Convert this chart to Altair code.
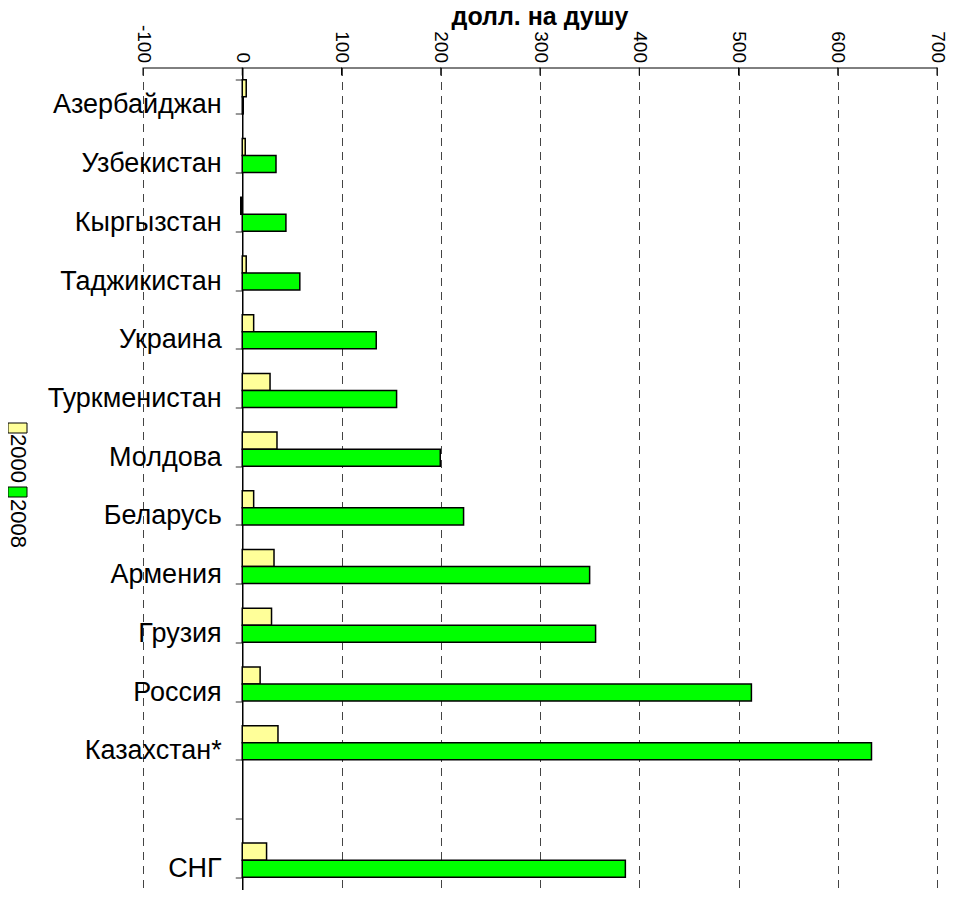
import altair as alt
import pandas as pd

countries = ["Азербайджан", "Узбекистан", "Кыргызстан", "Таджикистан", "Украина",
             "Туркменистан", "Молдова", "Беларусь", "Армения", "Грузия", "Россия",
             "Казахстан*", " ", "СНГ"]
v2000 = [4, 3, -1.5, 4, 11.5, 28, 35, 11.5, 32, 29.5, 18, 36, None, 24.5]
v2008 = [1, 34, 44, 58, 135, 155.5, 199.5, 223, 350, 356, 513, 634, None, 386]
years = ["2000", "2008"]
colors = ["#FFFF99", "#00FF00"]
tick_values = [-100, 0, 100, 200, 300, 400, 500, 600, 700]
title_text = "долл. на душу"

rows = []
for c, a, b in zip(countries, v2000, v2008):
    if a is not None:
        rows.append({"country": c, "year": "2000", "value": a})
    if b is not None:
        rows.append({"country": c, "year": "2008", "value": b})
df = pd.DataFrame(rows)

W, H = 794, 822
FONT = "Liberation Sans"

xscale = alt.Scale(domain=[tick_values[0], tick_values[-1]], nice=False, zero=False)

bars = alt.Chart(df).mark_bar(stroke="black", strokeWidth=1.5).encode(
    x=alt.X("value:Q", scale=xscale,
            axis=alt.Axis(orient="top", values=tick_values, labelAngle=90,
                          labelAlign="right", labelBaseline="middle",
                          labelExpr="'' + datum.value",
                          labelFont=FONT, labelFontSize=19, labelColor="black",
                          labelPadding=5, tickSize=0, domainColor="black",
                          domainWidth=1, grid=True, gridDash=[8, 6],
                          gridColor="#444", gridWidth=1, title=None)),
    y=alt.Y("country:N", sort=countries,
            scale=alt.Scale(domain=countries, paddingInner=0.42, paddingOuter=0.21),
            axis=alt.Axis(offset=-W / 8, tickBand="extent", tickSize=7,
                          tickColor="#333", labelPadding=14, labelFont=FONT,
                          labelFontSize=27, labelColor="black", labelLimit=300,
                          labelBaseline="alphabetic", labelOffset=16,
                          domainColor="black", domainWidth=1.5, grid=False,
                          title=None)),
    yOffset=alt.YOffset("year:N", sort=years),
    color=alt.Color("year:N", scale=alt.Scale(domain=years, range=colors), legend=None),
)

ticks_df = pd.DataFrame({"value": tick_values})
xticks = alt.Chart(ticks_df).mark_rule(color="black", strokeWidth=1).encode(
    x=alt.X("value:Q", scale=xscale),
    y=alt.value(0),
    y2=alt.value(8),
)

title = alt.Chart(pd.DataFrame({"t": [title_text]})).mark_text(
    font=FONT, fontSize=25, fontWeight="bold", baseline="alphabetic",
    align="center", color="black"
).encode(text="t:N", x=alt.value(W / 2), y=alt.value(-43))

legend_layers = []
sw_y = [355.5, 419.5]
tx_y = [391, 456]
for yr, col, sy, ty in zip(years, colors, sw_y, tx_y):
    legend_layers.append(
        alt.Chart(pd.DataFrame({"year": [yr]})).mark_rect(
            fill=col, stroke="black", strokeWidth=1
        ).encode(x=alt.value(-135), x2=alt.value(-116), y=alt.value(sy), y2=alt.value(sy + 10))
    )
    legend_layers.append(
        alt.Chart(pd.DataFrame({"year": [yr]})).mark_text(
            font=FONT, fontSize=22, angle=90, align="center", baseline="middle",
            color="black"
        ).encode(text="year:N", x=alt.value(-125), y=alt.value(ty))
    )

chart = alt.layer(bars, xticks, title, *legend_layers).properties(
    width=W, height=H,
    autosize=alt.AutoSizeParams(type="none"),
    padding={"left": 135, "top": 59.5, "right": 13, "bottom": 0},
    background="white",
).configure_view(strokeWidth=0)

chart.save("out.html", embed_options={"renderer": "svg", "actions": False})
